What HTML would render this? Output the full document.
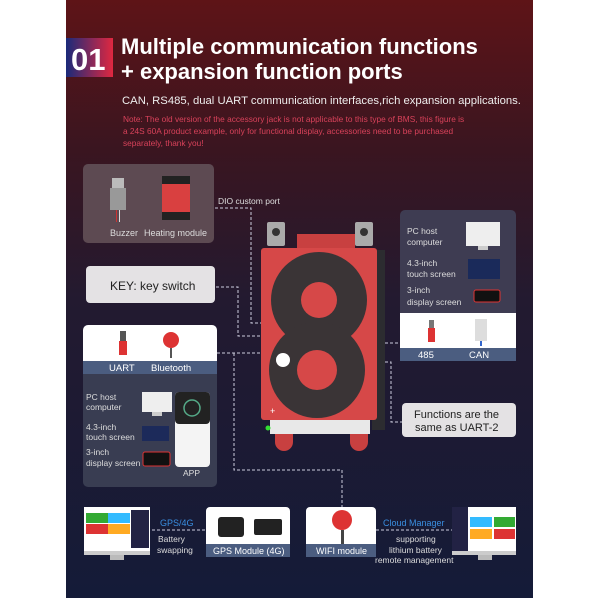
<!DOCTYPE html>
<html><head><meta charset="utf-8"><style>
body{margin:0;background:#fff;}
svg text{font-family:"Liberation Sans",sans-serif;}
</style></head><body>
<svg width="600" height="600" xmlns="http://www.w3.org/2000/svg">
<defs>
<linearGradient id="bg" x1="0" y1="0" x2="0" y2="1">
<stop offset="0" stop-color="#5e1417"/><stop offset="0.25" stop-color="#3a1520"/><stop offset="0.5" stop-color="#231a30"/><stop offset="1" stop-color="#141b38"/></linearGradient>
<linearGradient id="num" x1="0" y1="0" x2="1" y2="0">
<stop offset="0" stop-color="#1a2a7a"/><stop offset="1" stop-color="#e02840"/></linearGradient>
</defs>
<rect x="66" y="0" width="467" height="598" fill="url(#bg)"/>
<rect x="66" y="38" width="47" height="39" fill="url(#num)"/>
<text x="71" y="70" font-size="31" font-weight="bold" fill="#fff">01</text>
<text x="121" y="54" font-size="22" fill="#fff" font-weight="bold">Multiple communication functions</text>
<text x="121" y="79" font-size="22" fill="#fff" font-weight="bold">+ expansion function ports</text>
<text x="122" y="104" font-size="11.3" fill="#eee">CAN, RS485, dual UART communication interfaces,rich expansion applications.</text>
<g font-size="8.3" fill="#d8425a">
<text x="123" y="122">Note: The old version of the accessory jack is not applicable to this type of BMS, this figure is</text>
<text x="123" y="134">a 24S 60A product example, only for functional display, accessories need to be purchased</text>
<text x="123" y="146">separately, thank you!</text></g>

<!-- dashed lines -->
<g stroke="#ccd" stroke-width="1" stroke-dasharray="3,2" fill="none">
<path d="M215 208 H251 V323 H262"/>
<path d="M216 287 H238 V336 H262"/>
<path d="M217 353 H262"/>
<path d="M234 353 V470 H342 V507"/>
<path d="M380 343 H400"/>
<path d="M380 362 H391 V422 H402"/>
<path d="M152 530 H206"/>
<path d="M376 530 H452"/>
</g>

<!-- top-left box -->
<rect x="83" y="164" width="131" height="79" rx="5" fill="#5d4a52"/>
<rect x="112" y="178" width="12" height="10" fill="#bbb"/><rect x="110" y="188" width="16" height="22" fill="#999"/><rect x="116" y="210" width="1" height="12" fill="#c33"/><rect x="119" y="210" width="1" height="12" fill="#ddd"/>
<rect x="162" y="176" width="28" height="44" rx="2" fill="#d94040"/><rect x="162" y="176" width="28" height="8" fill="#222"/><rect x="162" y="212" width="28" height="8" fill="#222"/>
<text x="110" y="236" font-size="9" fill="#ddd">Buzzer</text>
<text x="144" y="236" font-size="9" fill="#ddd">Heating module</text>
<text x="218" y="204" font-size="8.5" fill="#ddd">DIO custom port</text>

<!-- KEY -->
<rect x="86" y="266" width="129" height="37" rx="4" fill="#e4e2e4"/>
<text x="110" y="290" font-size="12" fill="#222">KEY: key switch</text>

<!-- UART box -->
<rect x="83" y="325" width="134" height="162" rx="5" fill="#393d52"/>
<path d="M83 330 a5 5 0 0 1 5 -5 H212 a5 5 0 0 1 5 5 V361 H83Z" fill="#fff"/>
<rect x="83" y="361" width="134" height="13" fill="#4b5d80"/>
<text x="109" y="371" font-size="9.5" fill="#fff">UART</text>
<text x="151" y="371" font-size="9.5" fill="#fff">Bluetooth</text>
<rect x="120" y="331" width="6" height="10" fill="#555"/><rect x="119" y="341" width="8" height="14" fill="#d33"/>
<circle cx="171" cy="340" r="8" fill="#d33"/><rect x="170" y="348" width="2" height="10" fill="#555"/>
<g font-size="8.5" fill="#ddd">
<text x="86" y="400">PC host</text><text x="86" y="410">computer</text>
<text x="86" y="430">4.3-inch</text><text x="86" y="440">touch screen</text>
<text x="86" y="455">3-inch</text><text x="86" y="466">display screen</text>
<text x="183" y="476">APP</text></g>
<rect x="142" y="392" width="30" height="20" fill="#eee"/><rect x="152" y="412" width="10" height="4" fill="#ccc"/>
<rect x="142" y="426" width="27" height="15" fill="#1c2a5a"/>
<rect x="143" y="452" width="27" height="14" rx="2" fill="#111" stroke="#d33"/>
<rect x="175" y="392" width="35" height="75" rx="4" fill="#f4f4f4"/><rect x="175" y="392" width="35" height="32" rx="4" fill="#222"/><circle cx="192" cy="408" r="8" fill="none" stroke="#5a8" stroke-width="1.5"/>

<!-- right box -->
<rect x="400" y="210" width="116" height="151" rx="5" fill="#3e3c52"/>
<g font-size="8.5" fill="#ddd">
<text x="407" y="234">PC host</text><text x="407" y="245">computer</text>
<text x="407" y="266">4.3-inch</text><text x="407" y="277">touch screen</text>
<text x="407" y="293">3-inch</text><text x="407" y="305">display screen</text></g>
<rect x="466" y="222" width="34" height="24" fill="#eee"/><rect x="478" y="246" width="10" height="4" fill="#ccc"/>
<rect x="468" y="259" width="32" height="20" fill="#1a2a5a"/>
<rect x="474" y="290" width="26" height="12" rx="2" fill="#111" stroke="#d33"/>
<rect x="400" y="313" width="116" height="36" fill="#fff"/>
<rect x="400" y="348" width="116" height="13" fill="#4b5d80"/>
<text x="418" y="358" font-size="9.5" fill="#fff">485</text>
<text x="469" y="358" font-size="9.5" fill="#fff">CAN</text>
<rect x="429" y="320" width="5" height="8" fill="#777"/><rect x="428" y="328" width="7" height="14" fill="#d33"/>
<rect x="475" y="319" width="12" height="22" fill="#ddd"/><rect x="480" y="341" width="2" height="5" fill="#36c"/>

<rect x="402" y="403" width="114" height="34" rx="4" fill="#e4e2e4"/>
<text x="414" y="418" font-size="11" fill="#222">Functions are the</text>
<text x="415" y="431" font-size="11" fill="#222">same as UART-2</text>

<!-- BMS -->
<rect x="267" y="222" width="18" height="24" rx="2" fill="#aaa"/><circle cx="276" cy="232" r="4" fill="#333"/>
<rect x="355" y="222" width="18" height="24" rx="2" fill="#aaa"/><circle cx="364" cy="232" r="4" fill="#333"/>
<rect x="297" y="234" width="58" height="16" fill="#c84040"/>
<rect x="372" y="250" width="13" height="180" fill="#2c2c30"/>
<rect x="261" y="248" width="116" height="172" rx="3" fill="#d64848"/>
<circle cx="319" cy="300" r="48" fill="#3a3436"/><circle cx="319" cy="300" r="18" fill="#d64848"/>
<circle cx="317" cy="370" r="48" fill="#3a3436"/><circle cx="317" cy="370" r="20" fill="#d64848"/>
<circle cx="283" cy="360" r="7" fill="#fff"/>
<rect x="270" y="420" width="100" height="14" fill="#e8e8e8"/>
<circle cx="268" cy="428" r="2.5" fill="#3d3"/>
<path d="M275 434 h18 v8 a6 6 0 0 1 -18 0z" fill="#c84040"/>
<path d="M350 434 h18 v8 a6 6 0 0 1 -18 0z" fill="#c84040"/>
<text x="270" y="414" font-size="9" fill="#fff">+</text>

<!-- bottom -->
<g>
<rect x="84" y="507" width="66" height="44" fill="#fff"/>
<rect x="86" y="513" width="22" height="10" fill="#3a3"/><rect x="108" y="513" width="22" height="10" fill="#3bf"/>
<rect x="86" y="524" width="22" height="10" fill="#d33"/><rect x="108" y="524" width="22" height="10" fill="#fa2"/>
<rect x="131" y="510" width="18" height="38" fill="#224"/>
<rect x="84" y="551" width="66" height="4" fill="#ccc"/><rect x="110" y="555" width="14" height="5" fill="#bbb"/>
</g>
<g>
<rect x="452" y="507" width="64" height="44" fill="#fff"/>
<rect x="452" y="507" width="16" height="44" fill="#224"/>
<rect x="470" y="517" width="22" height="10" fill="#3bf"/><rect x="494" y="517" width="21" height="10" fill="#3a3"/>
<rect x="470" y="529" width="22" height="10" fill="#fa2"/><rect x="494" y="529" width="21" height="10" fill="#d33"/>
<rect x="452" y="551" width="64" height="4" fill="#ccc"/><rect x="478" y="555" width="14" height="5" fill="#bbb"/>
</g>
<rect x="206" y="507" width="84" height="50" rx="4" fill="#fff"/>
<rect x="206" y="544" width="84" height="13" fill="#4b5d80"/>
<text x="213" y="554" font-size="9" fill="#fff">GPS Module (4G)</text>
<rect x="218" y="517" width="26" height="20" rx="3" fill="#222"/><rect x="254" y="519" width="28" height="16" rx="2" fill="#222"/>
<rect x="306" y="507" width="70" height="50" rx="4" fill="#fff"/>
<rect x="306" y="544" width="70" height="13" fill="#4b5d80"/>
<text x="316" y="554" font-size="9" fill="#fff">WIFI module</text>
<circle cx="342" cy="520" r="10" fill="#d33"/><rect x="341" y="530" width="3" height="14" fill="#444"/>
<text x="160" y="526" font-size="9" fill="#3a8ee0">GPS/4G</text>
<text x="158" y="542" font-size="8.5" fill="#ddd">Battery</text>
<text x="157" y="553" font-size="8.5" fill="#ddd">swapping</text>
<text x="383" y="526" font-size="9" fill="#3a8ee0">Cloud Manager</text>
<text x="396" y="542" font-size="8.5" fill="#ddd">supporting</text>
<text x="389" y="553" font-size="8.5" fill="#ddd">lithium battery</text>
<text x="375" y="563" font-size="8.5" fill="#ddd">remote management</text>
</svg>
</body></html>
